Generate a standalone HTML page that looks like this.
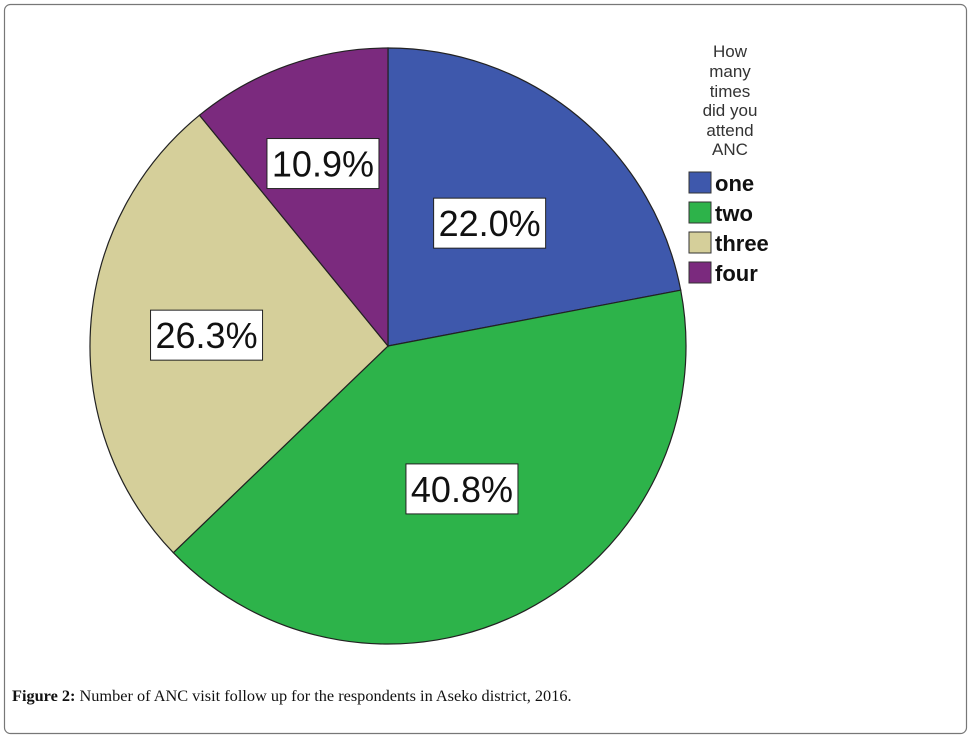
<!DOCTYPE html>
<html><head><meta charset="utf-8"><style>
body{margin:0;background:#fff;}
svg{display:block;font-family:"Liberation Sans",sans-serif;}
</style></head><body>
<svg width="971" height="739" viewBox="0 0 971 739">
<rect x="4.5" y="4.5" width="962" height="729" rx="6" fill="#fff" stroke="#777" stroke-width="1.2"/>
<g id="slices"></g>
<g id="labels"></g>
<g>
<text x="730" y="57" font-size="17" text-anchor="middle" fill="#333">
<tspan x="730" y="57">How</tspan><tspan x="730" y="77">many</tspan><tspan x="730" y="97">times</tspan><tspan x="730" y="116">did you</tspan><tspan x="730" y="136">attend</tspan><tspan x="730" y="155">ANC</tspan></text>
<g id="legend-items"></g>
</g>
<text x="12" y="701" font-family="Liberation Serif,serif" font-size="16.3" fill="#111"><tspan font-weight="bold">Figure 2:</tspan> Number of ANC visit follow up for the respondents in Aseko district, 2016.</text>
</svg>
<script>
const categories=["one","two","three","four"];
const values=[22.0,40.8,26.3,10.9];
const valueLabels=["22.0%","40.8%","26.3%","10.9%"];
const colors=["#3e58ac","#2db34a","#d5cf9a","#7b2a7e"];
const NS="http://www.w3.org/2000/svg";
const cx=388,cy=346,R=298;
const total=values.reduce((a,b)=>a+b,0);
function pt(a,r){return [cx+r*Math.sin(a),cy-r*Math.cos(a)];}
function labelFactor(f){return f<0.15?0.65:(f<0.25?0.535:(f<0.3?0.61:0.54));}
const gs=document.getElementById('slices'),gl=document.getElementById('labels'),gi=document.getElementById('legend-items');
let acc=0;
values.forEach((v,i)=>{
  const a0=acc/total*2*Math.PI;acc+=v;const a1=acc/total*2*Math.PI;
  const p0=pt(a0,R),p1=pt(a1,R);
  const p=document.createElementNS(NS,'path');
  p.setAttribute('d',`M${cx},${cy}L${p0[0]},${p0[1]}A${R},${R} 0 ${a1-a0>Math.PI?1:0} 1 ${p1[0]},${p1[1]}Z`);
  p.setAttribute('fill',colors[i]);p.setAttribute('stroke','#222');p.setAttribute('stroke-width','1.2');
  
  
  gs.appendChild(p);
  const m=pt((a0+a1)/2,R*labelFactor(v/total));
  const b=document.createElementNS(NS,'rect');
  b.setAttribute('x',m[0]-56);b.setAttribute('y',m[1]-25);b.setAttribute('width',112);b.setAttribute('height',50);
  b.setAttribute('fill','#fff');b.setAttribute('stroke','#222');
  
  
  gl.appendChild(b);
  const t=document.createElementNS(NS,'text');
  t.setAttribute('x',m[0]);t.setAttribute('y',m[1]+13);t.setAttribute('text-anchor','middle');t.setAttribute('font-size','36');t.setAttribute('fill','#111');
  t.textContent=valueLabels[i];
  
  
  gl.appendChild(t);
  const y=172+i*30;
  const s=document.createElementNS(NS,'rect');
  s.setAttribute('x',689);s.setAttribute('y',y);s.setAttribute('width',22);s.setAttribute('height',21);
  s.setAttribute('fill',colors[i]);s.setAttribute('stroke','#333');
  
  
  gi.appendChild(s);
  const lt=document.createElementNS(NS,'text');
  lt.setAttribute('x',715);lt.setAttribute('y',y+19);lt.setAttribute('font-size','22');lt.setAttribute('font-weight','bold');lt.setAttribute('fill','#111');
  lt.textContent=categories[i];
  
  
  gi.appendChild(lt);
});
</script>
</body></html>
